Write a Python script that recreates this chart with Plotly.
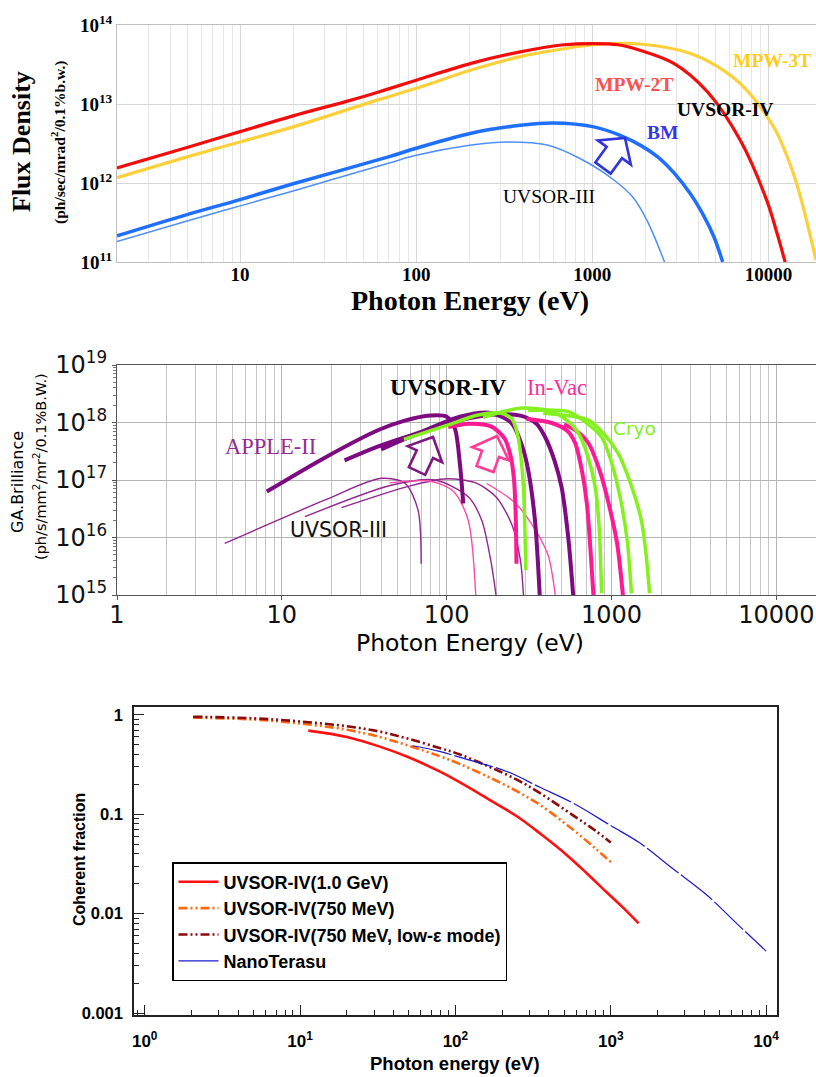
import plotly.graph_objects as go

W, H = 816, 1077

# ---------------- Top chart: Flux density ----------------
mpw2t_E = [2, 5, 10, 20, 42.7, 63, 100, 205, 390, 690, 1020, 1400, 1860, 2900, 4500, 6920, 9780, 11200, 12500]
mpw2t_F = [1.55e12, 2.82e12, 4.47e12, 7.08e12, 1.12e13, 1.45e13, 2.0e13, 3.27e13, 4.57e13, 5.62e13,
           5.82e13, 5.62e13, 4.79e13, 3.27e13, 1.43e13, 3.47e12, 6.03e11, 2.29e11, 9.55e10]

mpw3t_E = [2, 5, 10, 20, 60, 100, 205, 390, 690, 1020, 1870, 3600, 5000, 6900, 10700, 13200, 15000, 18600]
mpw3t_F = [1.17e12, 2.14e12, 3.31e12, 5.13e12, 1.12e13, 1.58e13, 2.69e13, 3.98e13, 5.01e13, 5.62e13,
           5.75e13, 4.37e13, 3.09e13, 1.82e13, 5.13e12, 1.78e12, 7.41e11, 1.07e11]

bm4_E = [2, 5, 10, 20, 69.5, 100, 205, 390, 600, 1020, 1450, 1900, 2350, 2900, 3610, 4300, 4900, 5500]
bm4_F = [2.14e11, 3.98e11, 6.17e11, 9.77e11, 2.14e12, 2.75e12, 4.27e12, 5.37e12, 5.75e12, 5.13e12,
         3.98e12, 2.95e12, 2.14e12, 1.35e12, 7.24e11, 3.8e11, 2.09e11, 1.0e11]

bm3_E = [2, 5, 10, 20, 69.5, 100, 205, 330, 555, 850, 1320, 1700, 2040, 2570]
bm3_F = [1.82e11, 3.31e11, 5.13e11, 7.94e11, 1.78e12, 2.24e12, 3.02e12, 3.31e12, 3.02e12, 2.04e12,
         1.1e12, 6.6e11, 3.39e11, 1.0e11]

top_yticks = [1e11, 1e12, 1e13, 1e14]
top_ytext = ["10<sup>11</sup>", "10<sup>12</sup>", "10<sup>13</sup>", "10<sup>14</sup>"]
top_xticks = [10, 100, 1000, 10000]
top_xtext = ["10", "100", "1000", "10000"]

# ---------------- Middle chart: brilliance ----------------
# UVSOR-IV APPLE-II (thick purple)
ap1_E = [8.1, 18, 38.5, 55, 80, 100, 112, 120, 126]
ap1_B = [6.3e16, 2.4e17, 7.4e17, 1.07e18, 1.32e18, 1.26e18, 7.9e17, 2.0e17, 3.9e16]
ap2_E = [24, 40, 70, 120, 180, 247, 290, 312, 343, 367]
ap2_B = [2.2e17, 4.0e17, 6.9e17, 1.26e18, 1.48e18, 9.8e17, 3.5e17, 1.48e17, 2.0e16, 9.3e14]
ap3_E = [40, 55, 100, 180, 280, 350, 395, 450, 497, 546, 586]
ap3_B = [3.4e17, 5.1e17, 9.5e17, 1.35e18, 1.32e18, 9.5e17, 5.6e17, 2.2e17, 7.6e16, 1.0e16, 9.3e14]
# UVSOR-IV In-Vac (thick pink)
iv1_E = [102, 135, 187, 225, 245, 256, 262, 265]
iv1_B = [8.3e17, 9.5e17, 8.5e17, 5.2e17, 2.5e17, 1.0e17, 2.5e16, 3.5e15]
iv2_E = [305, 434, 540, 601, 660, 708, 777]
iv2_B = [1.15e18, 9.8e17, 7.1e17, 4.4e17, 1.48e17, 3.9e16, 9.3e14]
iv3_E = [515, 603, 723, 850, 960, 1080, 1174]
iv3_B = [9.3e17, 7.4e17, 4.4e17, 1.41e17, 3.9e16, 7.9e15, 9.3e14]
# UVSOR-IV Cryo (thick green)
cr1_E = [55, 100, 155, 215, 250, 271, 282, 292, 302]
cr1_B = [5.1e17, 8.9e17, 1.35e18, 1.45e18, 1.12e18, 5.6e17, 2.5e17, 7.6e16, 2.7e15]
cr2_E = [166, 285, 434, 530, 630, 720, 795, 840, 870]
cr2_B = [1.23e18, 1.78e18, 1.55e18, 1.12e18, 6.5e17, 2.5e17, 7.6e16, 1.6e16, 1.07e15]
cr3_E = [312, 546, 700, 870, 1000, 1147, 1250, 1320]
cr3_B = [1.62e18, 1.55e18, 1.0e18, 5.6e17, 2.0e17, 3.9e16, 7.9e15, 1.07e15]
cr4_E = [385, 723, 900, 1096, 1300, 1515, 1620, 1700]
cr4_B = [1.45e18, 1.1e18, 6.3e17, 2.9e17, 8.9e16, 2.0e16, 5.0e15, 1.07e15]
# UVSOR-III (thin purple / thin pink)
t1_E = [4.5, 18.3, 40, 56, 67, 70]
t1_B = [7.9e15, 4.5e16, 1.07e17, 8.7e16, 3.0e16, 3.5e15]
t2_E = [13.8, 46, 85, 135, 163, 185, 199]
t2_B = [2.3e16, 8.1e16, 1.0e17, 5.1e16, 2.0e16, 4.0e15, 1.0e15]
t3_E = [23, 60, 100, 150, 200, 250, 280, 292]
t3_B = [3.3e16, 7.9e16, 1.05e17, 8.9e16, 5.0e16, 1.6e16, 4.0e15, 1.0e15]
k1_E = [45, 80, 110, 135, 150]
k1_B = [8.9e16, 9.5e16, 6.3e16, 2.0e16, 1.0e15]
k2_E = [175, 260, 350, 414, 440, 455]
k2_B = [8.7e16, 4.0e16, 1.26e16, 4.7e15, 2.0e15, 1.0e15]

mid_yticks = [1e15, 1e16, 1e17, 1e18, 1e19]
mid_ytext = ["10<sup>15</sup>", "10<sup>16</sup>", "10<sup>17</sup>", "10<sup>18</sup>", "10<sup>19</sup>"]
mid_xticks = [1, 10, 100, 1000, 10000]
mid_xtext = ["1", "10", "100", "1000", "10000"]

# ---------------- Bottom chart: coherent fraction ----------------
c10_E = [11.3, 20, 32.6, 50, 79, 107, 166, 250, 351, 520, 700, 937, 1200, 1510]
c10_F = [0.695, 0.60, 0.48, 0.375, 0.27, 0.21, 0.14, 0.095, 0.064, 0.039, 0.0255, 0.0165, 0.0115, 0.0080]
c750_E = [2.05, 5, 10, 20, 32.6, 50, 79, 107, 166, 250, 351, 575, 800, 1000]
c750_F = [0.94, 0.90, 0.82, 0.71, 0.60, 0.49, 0.385, 0.32, 0.235, 0.17, 0.124, 0.0695, 0.045, 0.033]
c750le_E = [2.05, 5, 10, 20, 32.6, 50, 79, 107, 166, 250, 351, 575, 800, 1000]
c750le_F = [0.96, 0.925, 0.86, 0.77, 0.68, 0.575, 0.465, 0.40, 0.30, 0.222, 0.163, 0.097, 0.068, 0.052]
nano_E = [53, 79, 120, 214, 350, 575, 1000, 1550, 2500, 4150, 6500, 10000]
nano_F = [0.49, 0.43, 0.355, 0.27, 0.187, 0.129, 0.077, 0.051, 0.0285, 0.0154, 0.0079, 0.0042]

bot_names = ["UVSOR-IV(1.0 GeV)", "UVSOR-IV(750 MeV)",
             "UVSOR-IV(750 MeV, low-\u03b5 mode)", "NanoTerasu"]
bot_xticks = [1, 10, 100, 1000, 10000]
bot_xtext = ["10<sup>0</sup>", "10<sup>1</sup>", "10<sup>2</sup>", "10<sup>3</sup>", "10<sup>4</sup>"]
bot_yticks = [0.001, 0.01, 0.1, 1]
bot_ytext = ["0.001", "0.01", "0.1", "1"]


def px(x):
    return x / W


def py(y):
    return 1 - y / H


fig = go.Figure()


def add(E, V, color, width, ax, name=None, dash=None, legend=False, smooth=0.9):
    fig.add_trace(go.Scatter(
        x=E, y=V, mode="lines", name=name, showlegend=legend,
        line=dict(color=color, width=width, shape="spline", smoothing=smooth, dash=dash),
        xaxis="x" + ax, yaxis="y" + ax, hoverinfo="skip"))


# top chart traces
add(bm3_E, bm3_F, "#4f8ff7", 1.5, "", smooth=1.0)
add(bm4_E, bm4_F, "#1f6fff", 3.5, "", smooth=1.0)
add(mpw3t_E, mpw3t_F, "#fcd03a", 3.2, "", smooth=1.0)
add(mpw2t_E, mpw2t_F, "#f20d0d", 3.2, "", smooth=1.0)

# middle chart traces
thin_purple = "#92278f"
thin_pink = "#ff4aa8"
for E, V, c in [(t1_E, t1_B, thin_purple), (t2_E, t2_B, thin_purple), (t3_E, t3_B, thin_purple),
                (k1_E, k1_B, thin_pink), (k2_E, k2_B, thin_pink)]:
    add(E, V, c, 1.4, "2", smooth=0.8)
purple = "#7d0a80"
pink = "#ff1a93"
green = "#84f01e"
for E, V in [(ap1_E, ap1_B), (ap2_E, ap2_B), (ap3_E, ap3_B)]:
    add(E, V, purple, 4, "2", smooth=0.8)
for E, V in [(iv1_E, iv1_B), (iv2_E, iv2_B), (iv3_E, iv3_B)]:
    add(E, V, pink, 4, "2", smooth=0.8)
for E, V in [(cr1_E, cr1_B), (cr2_E, cr2_B), (cr3_E, cr3_B), (cr4_E, cr4_B)]:
    add(E, V, green, 3.5, "2", smooth=0.8)

# bottom chart traces
add(c10_E, c10_F, "#ff1010", 2.6, "3", name=bot_names[0], legend=True, smooth=1.0)
add(c750_E, c750_F, "#ff6a10", 2.6, "3", name=bot_names[1],
    dash="9px,3px,2px,3px,2px,3px", legend=True, smooth=1.0)
add(c750le_E, c750le_F, "#8b0a0a", 2.6, "3", name=bot_names[2],
    dash="9px,3px,2px,3px,2px,3px", legend=True, smooth=1.0)
add(nano_E, nano_F, "#1a1acc", 1.2, "3", name=bot_names[3],
    dash="40px,3px", legend=True, smooth=1.0)

serif = "Liberation Serif"
sans = "DejaVu Sans"
arial = "Liberation Sans"

layout = dict(
    width=W, height=H, margin=dict(l=0, r=0, t=0, b=0, autoexpand=False),
    paper_bgcolor="white", plot_bgcolor="white",
    showlegend=True,
    legend=dict(x=px(172), y=py(862), xanchor="left", yanchor="top",
                bgcolor="white", bordercolor="black", borderwidth=1.5,
                font=dict(family=arial, size=18, color="black", weight="bold"),
                itemwidth=40, tracegroupgap=0),
    # top
    xaxis=dict(domain=[px(117), 1.0], anchor="y", type="log", automargin=False,
               range=[0.301, 4.27], tickmode="array", tickvals=top_xticks, ticktext=top_xtext,
               tickfont=dict(family=serif, size=19, color="black", weight="bold"),
               showgrid=True, gridcolor="#d6d6d6", gridwidth=1,
               minor=dict(dtick="D1", showgrid=True, gridcolor="#e6e6e6", ticks=""),
               showline=True, linecolor="#c0c0c0", mirror=True, ticks="",
               ticklabelstandoff=-5, zeroline=False),
    yaxis=dict(domain=[py(262), py(25)], anchor="x", type="log", automargin=False,
               range=[11, 14], tickmode="array", tickvals=top_yticks, ticktext=top_ytext,
               tickfont=dict(family=serif, size=19, color="black", weight="bold"),
               showgrid=True, gridcolor="#d6d6d6", gridwidth=1,
               showline=True, linecolor="#c0c0c0", mirror=True, ticks="", zeroline=False),
    # middle
    xaxis2=dict(domain=[px(117), 1.0], anchor="y2", type="log", automargin=False,
                range=[0, 4.24], tickmode="array", tickvals=mid_xticks, ticktext=mid_xtext,
                tickfont=dict(family=sans, size=24, color="#111111"),
                showgrid=True, gridcolor="#b4b4b4", gridwidth=1,
                minor=dict(dtick="D1", showgrid=True, gridcolor="#c6c6c6", ticks=""),
                showline=True, linecolor="#555555", mirror=True, ticks="outside",
                ticklen=4, tickcolor="#555555", ticklabelstandoff=-6, zeroline=False),
    yaxis2=dict(domain=[py(595), py(365)], anchor="x2", type="log", automargin=False,
                range=[15, 19], tickmode="array", tickvals=mid_yticks, ticktext=mid_ytext,
                tickfont=dict(family=sans, size=24, color="#111111"),
                showgrid=True, gridcolor="#b4b4b4", gridwidth=1,
                minor=dict(dtick="D1", ticks="outside", ticklen=3, tickcolor="#777777", showgrid=False),
                showline=True, linecolor="#555555", mirror=True, ticks="outside",
                ticklen=4, tickcolor="#555555", zeroline=False),
    # bottom
    xaxis3=dict(domain=[px(134), px(777)], anchor="y3", type="log", automargin=False,
                range=[-0.069, 4.07], tickmode="array", tickvals=bot_xticks, ticktext=bot_xtext,
                tickfont=dict(family=arial, size=17, color="black", weight="bold"),
                showgrid=False, showline=True, linecolor="#222222", linewidth=1.5, mirror=True,
                ticks="inside", ticklen=10, tickwidth=1.2, tickcolor="#222222",
                minor=dict(dtick="D1", ticks="inside", ticklen=5, tickcolor="#222222"),
                ticklabelstandoff=10, zeroline=False),
    yaxis3=dict(domain=[py(1015), py(707)], anchor="x3", type="log", automargin=False,
                range=[-3.02, 0.08], tickmode="array", tickvals=bot_yticks, ticktext=bot_ytext,
                tickfont=dict(family=arial, size=16.5, color="black", weight="bold"),
                showgrid=False, showline=True, linecolor="#222222", linewidth=1.5, mirror=True,
                ticks="inside", ticklen=10, tickwidth=1.2, tickcolor="#222222",
                minor=dict(dtick="D1", ticks="inside", ticklen=5, tickcolor="#222222"),
                ticklabelstandoff=6, zeroline=False),
)
fig.update_layout(**layout)


def ann(x, y, text, family, size, color="black", bold=False, angle=0, xanchor="center"):
    fig.add_annotation(x=px(x), y=py(y), xref="paper", yref="paper", text=text,
                       showarrow=False, textangle=angle, xanchor=xanchor, yanchor="middle",
                       font=dict(family=family, size=size, color=color,
                                 weight="bold" if bold else "normal"))


# top chart texts
ann(22, 142, "Flux Density", serif, 26, bold=True, angle=-90)
ann(58, 143, "(ph/sec/mrad<sup>2</sup>/0.1%b.w.)", serif, 15.5, bold=True, angle=-90)
ann(470, 301, "Photon Energy (eV)", serif, 28, bold=True)
ann(772, 60, "MPW-3T", serif, 19.5, color="#ffcc1a", bold=True)
ann(634, 84, "MPW-2T", serif, 19.5, color="#ff5050", bold=True)
ann(725, 110, "UVSOR-IV", serif, 19.5, bold=True)
ann(662, 132, "BM", serif, 19.5, color="#3535e6", bold=True)
ann(549, 196, "UVSOR-III", serif, 19.5)

# middle chart texts
ann(17, 482, "GA.Brilliance", sans, 16, angle=-90)
ann(40, 467, "(ph/s/mm<sup>2</sup>/mr<sup>2</sup>/0.1%B.W.)", sans, 14.5, angle=-90)
ann(470, 643, "Photon Energy (eV)", sans, 23.5)
ann(448, 387, "UVSOR-IV", serif, 23.5, bold=True)
ann(557, 387, "In-Vac", serif, 22.5, color="#ff2d9c")
ann(270, 447, "APPLE-II", serif, 22.5, color="#962a96")
ann(634, 428, "Cryo", sans, 18.5, color="#7ff21a")
ann(338, 530, "UVSOR-III", sans, 20.5, color="#111111")

# bottom chart texts
ann(79, 860, "Coherent fraction", arial, 16, bold=True, angle=-90)
ann(455, 1063, "Photon energy (eV)", arial, 18.5, bold=True)


def block_arrow(tail, tip, shaft_w, head_w, head_len, color):
    tx, ty = tail
    hx, hy = tip
    dx, dy = hx - tx, hy - ty
    L = (dx * dx + dy * dy) ** 0.5
    ux, uy = dx / L, dy / L
    nx, ny = -uy, ux
    bx, by = hx - ux * head_len, hy - uy * head_len
    pts = [
        (tx + nx * shaft_w / 2, ty + ny * shaft_w / 2),
        (bx + nx * shaft_w / 2, by + ny * shaft_w / 2),
        (bx + nx * head_w / 2, by + ny * head_w / 2),
        (hx, hy),
        (bx - nx * head_w / 2, by - ny * head_w / 2),
        (bx - nx * shaft_w / 2, by - ny * shaft_w / 2),
        (tx - nx * shaft_w / 2, ty - ny * shaft_w / 2),
    ]
    path = "M " + " L ".join(f"{px(a):.5f},{py(b):.5f}" for a, b in pts) + " Z"
    fig.add_shape(type="path", path=path, xref="paper", yref="paper",
                  line=dict(color=color, width=2.6), fillcolor="rgba(255,255,255,0)")


block_arrow((603, 168), (625, 138), 19, 41, 18, "#3434dd")
block_arrow((417, 471), (433, 437), 18, 38, 19, "#7d1a80")
block_arrow((485, 469), (497, 436), 18, 39, 19, "#ff3d97")

fig.write_html("out.html", config={"displayModeBar": False},
               post_script="document.body.style.margin='0px';document.body.style.padding='0px';")
